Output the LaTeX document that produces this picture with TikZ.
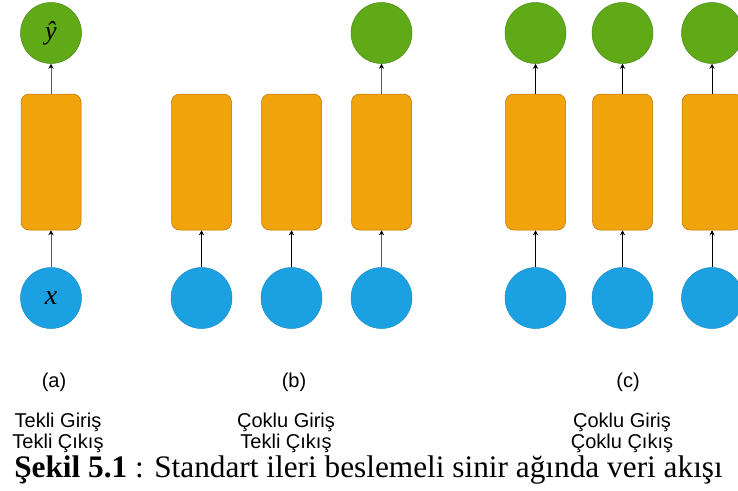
\documentclass[tikz,border=0pt]{standalone}
\usepackage{fontspec}
\setmainfont{Liberation Serif}
\newfontfamily\labelfont{Liberation Sans}
\usetikzlibrary{positioning,arrows.meta}
\usepackage{xcolor}

\definecolor{cellfill}{HTML}{F0A30A}
\definecolor{celldraw}{HTML}{BD7000}
\definecolor{inpfill}{HTML}{1BA1E2}
\definecolor{inpdraw}{HTML}{1A8AC4}
\definecolor{outpfill}{HTML}{60A917}
\definecolor{outpdraw}{HTML}{4A8A18}

\begin{document}
\begin{tikzpicture}[
  x=1pt, y=-1pt,
  cell/.style={rectangle, draw=celldraw, fill=cellfill, rounded corners=8pt,
    minimum width=60pt, minimum height=136pt, line width=0.5pt},
  inp/.style={circle, draw=inpdraw, fill=inpfill, minimum size=61pt,
    inner sep=0pt, line width=0.5pt},
  outp/.style={circle, draw=outpdraw, fill=outpfill, minimum size=61pt,
    inner sep=0pt, line width=0.5pt},
  link/.style={draw=black, -{Stealth[length=5pt, width=5pt, black]}, line width=0.6pt},
  dimlink/.style={link, draw=black!65},
  tag/.style={font=\labelfont\fontsize{20}{21.5}\selectfont, inner sep=0pt, align=center},
  node distance=37pt,
]
  \useasboundingbox (0,0) rectangle (738,490);

  % (a) one input, one output
  \node[cell] (ha) at (51,162) {};
  \node[inp, below=37pt of ha] (xa) {\fontsize{28}{28}\selectfont\itshape\raisebox{-3pt}{x}};
  \node[outp, above=30pt of ha] (ya) {\fontsize{26}{26}\selectfont\itshape ŷ};
  \draw[dimlink] (xa) -- (ha);
  \draw[dimlink] (ha) -- (ya);

  % (b) many inputs, one output
  \foreach \i/\xx in {1/201.5, 2/291.5, 3/381.5} {
    \node[cell] (hb\i) at (\xx,162) {};
    \node[inp, below=37pt of hb\i] (xb\i) {};
  }
  \node[outp, above=30pt of hb3] (yb3) {};
  \draw[link] (xb1) -- (hb1);
  \draw[link] (xb2) -- (hb2);
  \draw[dimlink] (xb3) -- (hb3);
  \draw[dimlink] (hb3) -- (yb3);

  % (c) many inputs, many outputs
  \foreach \i/\xx in {1/535.5, 2/622.5, 3/712} {
    \node[cell] (hc\i) at (\xx,162) {};
    \node[inp, below=37pt of hc\i] (xc\i) {};
    \node[outp, above=30pt of hc\i] (yc\i) {};
    \draw[link] (xc\i) -- (hc\i);
    \draw[link] (hc\i) -- (yc\i);
  }

  % labels
  \node[tag, anchor=base] (taga) at (54,387.5) {(a)};
  \node[tag, anchor=base] (tagb) at (294,387.5) {(b)};
  \node[tag, anchor=base] (tagc) at (628,387.5) {(c)};
  \node[tag, anchor=north] (ioa) at (58,412.5) {Tekli Giriş\\Tekli Çıkış};
  \node[tag, anchor=north] (iob) at (286,412.5) {Çoklu Giriş\\Tekli Çıkış};
  \node[tag, anchor=north] (ioc) at (622,412.5) {Çoklu Giriş\\Çoklu Çıkış};

  \node[anchor=base, inner sep=0pt, font=\fontsize{31.3}{38}\selectfont] (caption)
    at (368.5,477) {\textbf{Şekil 5.1} : Standart ileri beslemeli sinir ağında veri akışı};
\end{tikzpicture}
\end{document}
